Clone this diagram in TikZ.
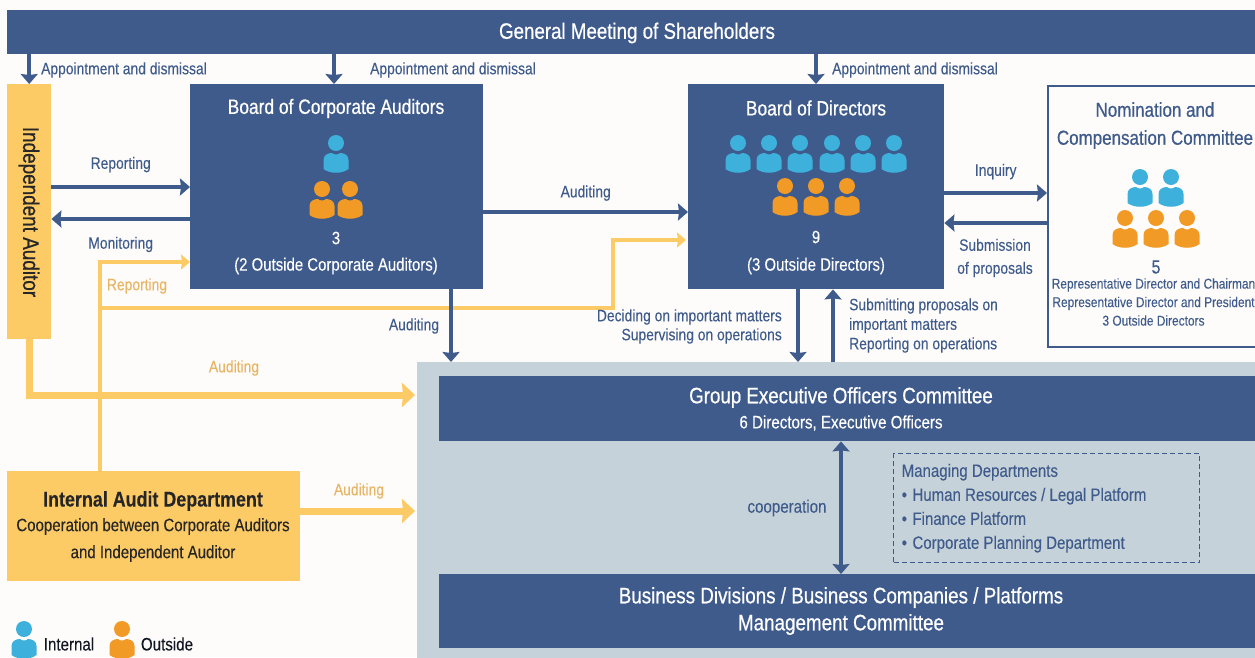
\documentclass[tikz,border=0pt]{standalone}
\usepackage{fontspec}
\setmainfont[FakeStretch=0.84,FakeBold=0.15]{Liberation Sans}
\newfontfamily\medfont[FakeStretch=0.84,FakeBold=0.6]{Liberation Sans}
\usepackage{tikz}
\usetikzlibrary{ arrows.meta, positioning }
\definecolor{navy}{HTML}{3F5B8C}
\definecolor{gold}{HTML}{FDCB65}
\definecolor{goldtext}{HTML}{E8B565}
\definecolor{panelgrey}{HTML}{C6D2D9}
\definecolor{paper}{HTML}{FDFCFA}
\definecolor{inblue}{HTML}{3DB0DC}
\definecolor{outorange}{HTML}{F19A25}
\newcommand{\fs}[1]{\fontsize{#1}{#1}\selectfont}
\newcommand{\dept}{\textbullet\hspace{5.5pt}}
\tikzset{
  x=1pt, y=-1pt, % same numbers as the pixels of the picture
  every node/.style={inner sep=1pt},
  head/.style={-{Stealth[length=10pt,width=17pt,inset=1pt]}},
  link/.style={draw=navy, line width=3.5pt, head},
  audit/.style={draw=gold, line width=3.5pt, -{Stealth[length=9pt,width=15pt,inset=1pt]}},
  fataudit/.style={draw=gold, line width=7pt, -{Stealth[length=13pt,width=24pt,inset=1pt]}},
  darkbox/.style={fill=navy, anchor=north west},
  goldbox/.style={fill=gold, anchor=north west},
  lbl/.style={text=navy, font=\fs{16.5}},
  goldlbl/.style={text=goldtext, font=\fs{16.5}},
  whitetxt/.style={text=white, font=\fs{17.8}},
  title/.style={text=white, font=\medfont\fs{20.7}},
  bigtitle/.style={text=white, font=\medfont\fs{22.3}},
  pics/person/.style={code={
    \fill[#1] (0,0) circle (8);
    \fill[#1] (-12.5,26) -- (-12.5,17) .. controls (-12.5,12) and (-8,10) .. (-4,10)
      .. controls (-2,12) and (2,12) .. (4,10) .. controls (8,10) and (12.5,12) .. (12.5,17)
      -- (12.5,26) .. controls (6,31) and (-6,31) .. (-12.5,26) -- cycle;
  }},
}
\begin{document}
\begin{tikzpicture}
  \path[use as bounding box, clip] (0,0) rectangle (1255,657);
  \fill[paper] (0,0) rectangle (1255,657);

  % boxes
  \node[darkbox, minimum width=1248pt, minimum height=44pt] (top) at (7,10) {};
  \node[goldbox, minimum width=44pt, minimum height=255pt] (ia) at (7,84) {};
  \node[darkbox, minimum width=293pt, minimum height=205pt] (boca) at (190,84) {};
  \node[darkbox, minimum width=256pt, minimum height=205pt] (bod) at (688,84) {};
  \node[draw=navy, line width=2pt, fill=paper, anchor=north west, minimum width=230pt, minimum height=261pt] (ncc) at (1047,85) {};
  \node[fill=panelgrey, anchor=north west, minimum width=850pt, minimum height=300pt] (panel) at (417,362) {};
  \node[darkbox, minimum width=830pt, minimum height=65pt] (geoc) at (439,376) {};
  \node[darkbox, minimum width=830pt, minimum height=74pt] (bdiv) at (439,574) {};
  \node[goldbox, minimum width=293pt, minimum height=110pt] (iad) at (7,471) {};
  \node[draw=navy, line width=1.4pt, dash pattern=on 5pt off 3pt, anchor=north west, minimum width=306pt, minimum height=109pt,
    text width=290pt, align=left, text=navy, font=\fontsize{17.9}{24}\selectfont] (mdep) at (893,453)
    {\spaceskip=0pt\xspaceskip=0pt Managing Departments\\\dept Human Resources / Legal Platform\\\dept Finance Platform\\\dept Corporate Planning Department};

  % yellow connectors go under the blue ones
  \coordinate (repsplit) at (100,308);
  \coordinate (repknee) at (613,308);
  \draw[audit] (iad.north -| repsplit) |- (boca.west |- 0,262);
  \draw[audit, shorten >=2pt] (repsplit) -- (repknee) |- (bod.west |- 0,240);
  \draw[fataudit, shorten >=2pt] (ia.south) |- (panel.west |- 0,395);
  \draw[fataudit, shorten >=2pt] (iad.east |- 0,511) -- (panel.west |- 0,511);

  \path[every edge/.style={link}]
  (top.south -| ia) edge (ia.north)
  (top.south -| 334,0) edge (boca.north -| 334,0)
  (top.south -| 816,0) edge (bod.north -| 816,0)
  (ia.east |- 0,187) edge node[above=12pt, lbl] (repa) {Reporting} (boca.west |- 0,187)
  (boca.west |- 0,219) edge node[below=15pt, lbl] (moni) {Monitoring} (ia.east |- 0,219)
  (boca.east |- 0,212) edge node[above=8.5pt, lbl] (audb) {Auditing} (bod.west |- 0,212)
  (bod.east |- 0,193) edge node[above=11pt, lbl] (inq) {Inquiry} (ncc.west |- 0,193)
  (ncc.west |- 0,223) edge (bod.east |- 0,223)
  (boca.south -| 451,0) edge (panel.north -| 451,0)
  (bod.south -| 798,0) edge (panel.north -| 798,0)
  (panel.north -| 833,0) edge (bod.south -| 833,0);
  \draw[link, {Stealth[length=10pt,width=17pt,inset=1pt]}-{Stealth[length=10pt,width=17pt,inset=1pt]}]
    (geoc.south -| 841,0) -- (bdiv.north -| 841,0);

  % people
  \pic at (336,143) {person=inblue};
  \foreach \xx in {322,350} \pic at (\xx,189) {person=outorange};
  \foreach \xx in {738,769,800,832,863,894} \pic at (\xx,143) {person=inblue};
  \foreach \xx in {785,816,847} \pic at (\xx,186) {person=outorange};
  \foreach \xx in {1140,1171} \pic at (\xx,177) {person=inblue};
  \foreach \xx in {1125,1156,1187} \pic at (\xx,218) {person=outorange};
  \pic at (24,629) {person=inblue};
  \pic at (122,629) {person=outorange};

  % texts
  \node[bigtitle] (toptxt) at (637,33) {General Meeting of Shareholders};
  \node[rotate=-90, font=\medfont\fs{22.5}, text=black!85] (iatxt) at (29,212) {Independent Auditor};
  \node[lbl] (app1) at (124,70) {Appointment and dismissal};
  \node[lbl] (app2) at (453,70) {Appointment and dismissal};
  \node[lbl] (app3) at (915,70) {Appointment and dismissal};

  \node[title] (bocatxt) at (336,108.5) {Board of Corporate Auditors};
  \node[whitetxt] (bocanum) at (336,238) {3};
  \node[whitetxt] (bocaout) at (336,266) {(2 Outside Corporate Auditors)};
  \node[title] (bodtxt) at (816,108) {Board of Directors};
  \node[whitetxt] (bodnum) at (816,237) {9};
  \node[whitetxt] (bodout) at (816,266) {(3 Outside Directors)};

  \node[goldlbl] (repb) at (137,286) {Reporting};
  \node[goldlbl] (aud1) at (234,368) {Auditing};
  \node[goldlbl] (aud2) at (359,491) {Auditing};
  \node[lbl] (aud3) at (414,326) {Auditing};

  \node[lbl, align=center, font=\fontsize{16.5}{23}\selectfont] (sub) at (995,258) {Submission\\of proposals};
  \node[lbl, align=right, font=\fontsize{16.5}{19}\selectfont, anchor=east] (dec) at (783,326.5) {Deciding on important matters\\Supervising on operations};
  \node[lbl, align=left, font=\fontsize{16.5}{19.5}\selectfont, anchor=west] (subm) at (848,325.5) {Submitting proposals on\\important matters\\Reporting on operations};

  \node[text=navy, align=center, font=\medfont\fontsize{20.2}{28}\selectfont] (ncctxt) at (1155,125.5) {Nomination and\\Compensation Committee};
  \node[text=navy, font=\fs{19}] (nccnum) at (1156,267) {5};
  \node[text=navy, align=center, font=\fontsize{14.2}{18.5}\selectfont] (nccmem) at (1153.5,302) {Representative Director and Chairman\\Representative Director and President\\3 Outside Directors};

  \node[bigtitle] (geoctxt) at (841,397.5) {Group Executive Officers Committee};
  \node[text=white, font=\fs{18}] (geocsub) at (841,423) {6 Directors, Executive Officers};
  \node[lbl, font=\fs{18}] (coop) at (787,508) {cooperation};
  \node[text=white, align=center, font=\medfont\fontsize{22.4}{27}\selectfont] (bdivtxt) at (841,611) {Business Divisions / Business Companies / Platforms\\Management Committee};

  \node[font=\bfseries\fs{21.3}, text=black!85] (iadtxt) at (153,501) {Internal Audit Department};
  \node[align=center, font=\fontsize{17.9}{27}\selectfont, text=black!85] (iadsub) at (153,540) {Cooperation between Corporate Auditors\\and Independent Auditor};

  \node[text=black!75!navy, font=\fs{18}] (lgin) at (69,644) {Internal};
  \node[text=black!75!navy, font=\fs{18}] (lgout) at (167,644) {Outside};
\end{tikzpicture}
\end{document}
